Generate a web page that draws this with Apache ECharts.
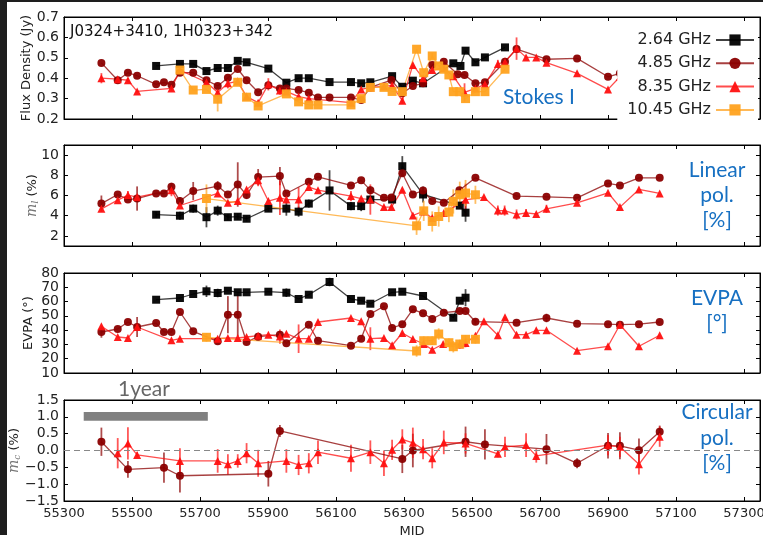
<!DOCTYPE html>
<html><head><meta charset="utf-8">
<script src="https://cdn.jsdelivr.net/npm/echarts@6/dist/echarts.min.js"></script>
<style>html,body{margin:0;padding:0;background:#fff}#c{width:763px;height:535px}</style>
</head><body><div id="c"></div>
<script>
const freqNames = ['2.64 GHz', '4.85 GHz', '8.35 GHz', '10.45 GHz'];

// Each point: [MJD, value, error]
const stokesI_264 = [[55571,0.46,0],[55641,0.47,0],[55680,0.47,0],[55719,0.435,0],[55752,0.45,0],[55782,0.45,0],[55811,0.485,0],[55837,0.478,0],[55901,0.447,0],[55954,0.378,0],[55990,0.40,0],[56020,0.40,0],[56081,0.381,0],[56144,0.381,0],[56174,0.375,0],[56201,0.38,0],[56265,0.41,0],[56295,0.358,0],[56326,0.388,0],[56356,0.375,0],[56445,0.473,0],[56466,0.46,0],[56481,0.535,0],[56510,0.478,0],[56538,0.502,0],[56597,0.551,0]];
const stokesI_485 = [[55410,0.475,0],[55458,0.39,0],[55488,0.427,0],[55515,0.412,0],[55571,0.37,0],[55594,0.38,0],[55616,0.368,0],[55641,0.427,0],[55680,0.427,0],[55719,0.39,0],[55752,0.362,0],[55782,0.402,0],[55811,0.445,0],[55837,0.39,0],[55871,0.331,0],[55901,0.365,0],[55935,0.35,0],[55954,0.35,0],[55990,0.342,0],[56020,0.329,0],[56047,0.306,0],[56081,0.306,0],[56144,0.306,0],[56174,0.293,0],[56201,0.355,0],[56263,0.391,0],[56295,0.326,0],[56326,0.362,0],[56356,0.375,0],[56383,0.465,0],[56417,0.481,0],[56458,0.419,0],[56478,0.416,0],[56510,0.375,0],[56538,0.38,0],[56597,0.481,0],[56631,0.543,0],[56719,0.493,0],[56809,0.497,0],[56900,0.407,0],[56935,0.424,0],[56991,0.40,0],[57052,0.44,0]];
const stokesI_835 = [[55410,0.40,0.025],[55458,0.395,0.01],[55488,0.39,0.01],[55515,0.335,0.005],[55616,0.35,0.01],[55641,0.44,0.01],[55719,0.38,0],[55752,0.33,0.01],[55782,0.375,0.025],[55811,0.385,0.01],[55837,0.31,0],[55871,0.28,0],[55901,0.37,0.03],[55935,0.34,0.02],[55954,0.335,0.015],[55990,0.31,0],[56020,0.30,0],[56144,0.28,0],[56174,0.345,0],[56201,0.355,0],[56241,0.36,0],[56265,0.365,0],[56295,0.29,0.015],[56326,0.465,0],[56356,0.40,0],[56383,0.44,0],[56417,0.45,0.01],[56445,0.41,0],[56478,0.33,0.045],[56510,0.35,0],[56538,0.37,0],[56576,0.47,0.02],[56597,0.48,0.02],[56631,0.545,0.055],[56659,0.502,0],[56689,0.502,0],[56719,0.476,0],[56809,0.424,0],[56900,0.345,0],[56935,0.407,0],[56991,0.36,0],[57052,0.42,0]];
const stokesI_1045 = [[55641,0.44,0],[55680,0.342,0],[55719,0.345,0],[55752,0.297,0.06],[55811,0.38,0],[55837,0.307,0],[55871,0.264,0],[55954,0.323,0],[55990,0.284,0],[56020,0.269,0],[56047,0.269,0],[56144,0.269,0],[56174,0.30,0],[56201,0.355,0],[56241,0.355,0],[56265,0.335,0],[56295,0.334,0],[56337,0.542,0],[56358,0.427,0],[56383,0.509,0.015],[56402,0.46,0],[56417,0.444,0],[56432,0.416,0],[56445,0.334,0],[56464,0.334,0],[56481,0.30,0],[56510,0.334,0],[56538,0.334,0],[56597,0.444,0]];

const linPol_264 = [[55571,4.1,0.3],[55641,4.0,0.4],[55680,4.7,0.4],[55719,3.85,1.0],[55752,4.5,0.5],[55782,3.85,0.3],[55811,3.9,0.3],[55837,3.7,0.3],[55901,4.7,0.3],[55954,4.7,0.7],[55990,4.4,0.5],[56020,5.2,0.4],[56081,6.5,2.0],[56144,4.95,0.4],[56174,4.95,0.5],[56201,5.6,0.3],[56265,5.6,0.3],[56295,8.9,1.0],[56356,6.1,0.8],[56464,5.0,0.3],[56481,4.3,0.9]];
const linPol_485 = [[55410,5.2,0.8],[55458,6.1,0],[55488,5.6,0],[55515,5.7,1.2],[55571,6.2,0],[55594,6.2,0],[55616,6.86,0.4],[55641,5.45,0.4],[55680,6.44,0.9],[55752,6.93,0.5],[55782,6.1,0],[55811,7.09,2.2],[55837,6.04,0.4],[55871,7.82,0.8],[55935,7.92,0.9],[55954,6.2,0],[56020,7.36,0.3],[56047,7.85,0],[56144,7.0,0],[56174,7.5,0],[56201,6.53,0.4],[56241,5.77,0],[56263,5.8,0],[56295,8.2,0],[56326,6.1,0],[56356,6.5,0],[56383,5.45,0],[56417,5.28,0],[56463,6.53,0],[56510,7.75,0],[56631,5.94,0],[56719,5.87,0],[56809,5.77,0],[56900,7.2,0],[56935,7.0,0],[56991,7.75,0],[57052,7.75,0]];
const linPol_835 = [[55410,4.68,0],[55458,5.54,0],[55488,6.04,0.4],[55515,5.85,0],[55616,6.53,0.6],[55641,5.01,0],[55752,6.2,0],[55782,5.28,0],[55811,5.45,0],[55837,6.6,0],[55871,7.52,0.6],[55901,5.45,0],[55935,5.77,1.7],[55954,5.6,0],[55990,5.6,1.2],[56020,6.83,0],[56047,6.53,0],[56144,5.94,0.5],[56174,5.7,0],[56201,5.6,1.5],[56241,4.85,0],[56263,4.85,0],[56295,6.56,0],[56326,4.02,0],[56356,4.42,0],[56383,3.76,0],[56417,4.26,0],[56481,5.57,1.6],[56535,5.84,0],[56576,4.51,0.5],[56596,4.51,0.5],[56631,4.12,0.5],[56659,4.27,0.4],[56689,4.17,0],[56719,4.68,0.4],[56809,5.28,0],[56900,6.27,0],[56935,4.85,0],[56991,6.6,0],[57052,6.2,0]];
const linPol_1045 = [[55719,5.7,1.4],[56337,3.0,0.9],[56358,4.48,1.0],[56383,3.43,1.0],[56402,3.92,1.0],[56432,4.36,1.0],[56445,5.41,1.2],[56464,6.07,1.3],[56481,6.24,1.3],[56510,6.07,0.9]];

const evpa_264 = [[55571,61.3,0],[55641,62.5,0],[55680,65.3,0],[55719,67.2,4],[55752,66,3],[55782,67.6,0],[55811,66.5,0],[55837,66.5,0],[55901,66.9,0],[55954,66.2,3],[55990,61.8,0],[56020,64.8,0],[56081,73.7,3],[56144,61.8,0],[56174,60.6,0],[56201,58.5,0],[56265,66.5,0],[56295,66.9,0],[56356,63.9,0],[56445,48.7,0],[56464,60.6,0],[56481,62.7,6]];
const evpa_485 = [[55410,38.7,4],[55458,40.8,0],[55488,45.7,0],[55515,42.2,7],[55571,45,0],[55594,38.7,0],[55616,38.7,0],[55641,52.7,0],[55680,39.2,0],[55752,32.2,0],[55782,50.8,13],[55811,50.8,15],[55837,31.7,0],[55871,35.4,0],[55935,36.8,0],[55954,30.8,0],[56020,43.8,0],[56047,32.6,0],[56144,29.1,0],[56174,34,0],[56201,51.3,0],[56241,56.7,0],[56265,41.5,0],[56295,44.1,0],[56326,54.6,0],[56356,51.8,0],[56383,47.8,0],[56417,52.2,0],[56464,53.4,0],[56481,53.4,0],[56510,45.9,2],[56631,45.2,0],[56719,48.5,3],[56809,44.5,0],[56900,44.2,0],[56935,43.8,0],[56991,44.2,0],[57052,45.7,0]];
const evpa_835 = [[55410,42.7,0],[55458,35.2,0],[55488,34.5,0],[55515,42.2,0],[55616,32.9,0],[55641,34,0],[55752,34,0],[55782,34.5,0],[55811,34.5,0],[55837,35.2,0],[55871,36.1,0],[55901,36.8,0],[55935,35.5,5],[55954,37.5,0],[55990,34,10],[56020,34,0],[56047,45.7,0],[56144,48.5,0],[56174,46.2,0],[56201,34,8],[56241,34.5,0],[56265,29.4,0],[56295,38,0],[56326,33.8,0],[56358,30.3,0],[56383,26.3,0],[56415,30.3,0],[56464,30,3],[56481,31,3],[56510,36,0],[56535,46.2,0],[56576,36.4,0],[56597,49,0],[56631,36.8,0],[56659,36.8,0],[56689,39.9,0],[56719,39.9,0],[56809,25.6,0],[56900,28.7,0],[56935,43.8,0],[56991,28.7,0],[57052,36.4,0]];
const evpa_1045 = [[55719,35,3],[56337,25.4,4],[56358,32.6,3],[56383,32.6,3],[56402,37.3,4],[56432,31.2,3],[56445,28.4,4],[56464,30.3,3],[56481,33.6,3],[56510,33.6,3]];

const circPol_485 = [[55410,0.26,0.42],[55488,-0.56,0.25],[55594,-0.51,0.45],[55641,-0.75,0.5],[55901,-0.69,0.38],[55935,0.58,0.18],[56295,-0.25,0.42],[56326,0.0,0.5],[56481,0.26,0.45],[56538,0.18,0.45],[56719,0.04,0.45],[56809,-0.38,0.15],[56900,0.14,0.38],[56935,0.14,0.4],[56991,0.01,0.35],[57052,0.56,0.18]];
const circPol_835 = [[55458,-0.08,0.45],[55488,0.21,0.48],[55515,-0.13,0.08],[55641,-0.31,0.38],[55752,-0.31,0.35],[55782,-0.41,0.3],[55811,-0.31,0.2],[55837,-0.08,0.3],[55871,-0.38,0.4],[55954,-0.31,0.35],[55990,-0.43,0.3],[56020,-0.38,0.3],[56047,-0.05,0.35],[56144,-0.23,0.4],[56201,-0.05,0.35],[56241,-0.38,0.38],[56265,0.02,0.3],[56295,0.33,0.3],[56326,0.23,0.45],[56356,0.04,0.3],[56383,-0.23,0.3],[56417,0.24,0.35],[56481,0.21,0.3],[56576,-0.1,0.1],[56597,0.11,0.3],[56659,0.16,0.35],[56689,-0.16,0.2],[56900,0.16,0.3],[56935,0.11,0.3],[56991,-0.41,0.3],[57052,0.41,0.3]];

const xTicks = [55300,55500,55700,55900,56100,56300,56500,56700,56900,57100,57300];
const yTicksI = [0.2,0.3,0.4,0.5,0.6,0.7];
const yTicksML = [2,4,6,8,10];
const yTicksEVPA = [10,20,30,40,50,60,70,80];
const yTicksMC = [-1.5,-1.0,-0.5,0.0,0.5,1.0,1.5];
const yearBarMJD = [55358, 55723];

const styles = {
  '2.64 GHz': {color:'#000000', symbol:'rect', size:8},
  '4.85 GHz': {color:'#8b0000', symbol:'circle', size:8},
  '8.35 GHz': {color:'#ff1010', symbol:'triangle', size:8},
  '10.45 GHz': {color:'#ffa21f', symbol:'rect', size:9}
};

const gridTops = [17, 145, 273, 400];
const gridHeights = [102, 101, 100, 101];
const grids = gridTops.map((t,i)=>({left:64, width:696, top:t, height:gridHeights[i], show:true, borderColor:'#000', borderWidth:1, containLabel:false, outerBoundsMode:'none'}));

const FONT = 'DejaVu Sans';
const fmt1 = v => (v < 0 ? '\u2212' : '') + Math.abs(v).toFixed(1);
const fmt0 = v => String(Math.round(v));

const xAxes = [];
for (let g=0; g<4; g++) {
  for (const bottom of [true,false]) {
    const lab = bottom && g===3;
    xAxes.push({
      type:'value', gridIndex:g, position: bottom?'bottom':'top',
      min:55300, max:57347,
      axisLine:{show:true, onZero:false, lineStyle:{color:'#000', width:1}},
      axisTick:{show:true, inside:true, length:4, lineStyle:{color:'#000'}, customValues:xTicks},
      axisLabel:{show:lab, customValues:xTicks, formatter:fmt0, fontSize:13, color:'#222', margin:6, fontFamily:FONT, showMaxLabel:true, showMinLabel:true},
      splitLine:{show:false},
      name: lab ? 'MJD' : '', nameLocation:'middle', nameGap:24,
      nameTextStyle:{fontSize:13, color:'#222', fontFamily:FONT}
    });
  }
}

const yDefs = [
  {min:0.2, max:0.7, ticks:yTicksI, fmt:fmt1, name:'Flux Density (Jy)', gap:31},
  {min:1, max:11, ticks:yTicksML, fmt:fmt0, name:'{m|m}{s|l}{n| (%)}', gap:24},
  {min:10, max:80, ticks:yTicksEVPA, fmt:fmt0, name:'EVPA (°)', gap:29},
  {min:-1.5, max:1.5, ticks:yTicksMC, fmt:fmt1, name:'{m|m}{s|c}{n| (%)}', gap:42}
];
const rich = {
  m:{fontFamily:'DejaVu Serif', fontStyle:'italic', fontSize:14, color:'#777'},
  s:{fontFamily:'DejaVu Serif', fontStyle:'italic', fontSize:9, color:'#777', padding:[6,0,0,0]},
  n:{fontFamily:FONT, fontSize:13, color:'#222'}
};
const yAxes = [];
yDefs.forEach((d,g)=>{
  for (const left of [true,false]) {
    yAxes.push({
      type:'value', gridIndex:g, position:left?'left':'right',
      min:d.min, max:d.max,
      axisLine:{show:true, onZero:false, lineStyle:{color:'#000', width:1}},
      axisTick:{show:true, inside:true, length:4, lineStyle:{color:'#000'}, customValues:d.ticks},
      axisLabel:{show:left, customValues:d.ticks, formatter:d.fmt, fontSize:14, color:'#222', margin:5, fontFamily:FONT},
      splitLine:{show:false},
      name: left ? d.name : '', nameLocation:'middle', nameRotate:90, nameGap:d.gap, nameMoveOverlap:false,
      nameTextStyle:{fontSize:13, color:'#222', fontFamily:FONT, rich:rich}
    });
  }
});

function lineSeries(name, data, g, extra) {
  const s = styles[name];
  return Object.assign({
    name, type:'line', xAxisIndex:2*g, yAxisIndex:2*g,
    data: data.map(d=>[d[0], d[1]]),
    symbol:s.symbol, symbolSize:s.size, showSymbol:true,
    lineStyle:{color:s.color, width:1.3, opacity:0.75},
    itemStyle:{color:s.color, opacity:0.95},
    emphasis:{disabled:true}, animation:false, z:3
  }, extra || {});
}
function errSeries(name, data, g) {
  const s = styles[name];
  return {
    name, type:'custom', xAxisIndex:2*g, yAxisIndex:2*g,
    data: data.filter(d=>d[2]>0),
    encode:{x:0, y:1},
    renderItem:(params, api)=>{
      const x = api.value(0), y = api.value(1), e = api.value(2);
      const p1 = api.coord([x, y-e]), p2 = api.coord([x, y+e]);
      return {type:'line', shape:{x1:p1[0], y1:p1[1], x2:p2[0], y2:p2[1]}, style:{stroke:s.color, lineWidth:1.8, opacity:0.7}};
    },
    silent:true, animation:false, z:2
  };
}

const panels = [
  [['2.64 GHz', stokesI_264], ['4.85 GHz', stokesI_485], ['8.35 GHz', stokesI_835], ['10.45 GHz', stokesI_1045]],
  [['2.64 GHz', linPol_264], ['4.85 GHz', linPol_485], ['8.35 GHz', linPol_835], ['10.45 GHz', linPol_1045]],
  [['2.64 GHz', evpa_264], ['4.85 GHz', evpa_485], ['8.35 GHz', evpa_835], ['10.45 GHz', evpa_1045]],
  [['4.85 GHz', circPol_485], ['8.35 GHz', circPol_835]]
];

const series = [];
panels.forEach((p,g)=>p.forEach(([name,data])=>{
  let extra = null;
  if (g===3 && name==='4.85 GHz') {
    extra = {
      markLine:{silent:true, symbol:'none', label:{show:false}, lineStyle:{type:[6,4], color:'#888', width:1.2}, data:[{yAxis:0}], animation:false},
      markArea:{silent:true, itemStyle:{color:'#808080', opacity:1}, data:[[{xAxis:yearBarMJD[0], yAxis:0.88},{xAxis:yearBarMJD[1], yAxis:1.14}]], animation:false}
    };
  }
  series.push(lineSeries(name, data, g, extra));
}));
panels.forEach((p,g)=>p.forEach(([name,data])=>series.push(errSeries(name, data, g))));

const BLUE = '#1770c2';
const LBL = '21px Lato';
const txt = (text, x, y, font, fill, align) => ({type:'text', x, y, z:20, style:{text, font, fill, textAlign:align||'center', textVerticalAlign:'middle'}});

const option = {
  backgroundColor:'#fff',
  animation:false,
  grid:grids, xAxis:xAxes, yAxis:yAxes, series,
  legend:{
    data:freqNames, orient:'vertical', right:5, top:28, align:'right',
    itemWidth:38, itemHeight:14, itemGap:7.3, selectedMode:false,
    backgroundColor:'#fff', padding:[4,3,4,10], z:10,
    textStyle:{fontSize:16, lineHeight:16, color:'#222', fontFamily:FONT}
  },
  graphic:[
    {type:'rect', shape:{x:0,y:0,width:7,height:535}, style:{fill:'#1e1e1e'}, z:30},
    {type:'rect', shape:{x:0,y:0,width:763,height:2}, style:{fill:'#1e1e1e'}, z:30},
    txt('J0324+3410, 1H0323+342', 70, 32, '15px "DejaVu Sans"', '#111', 'left'),
    txt('Stokes I', 539, 97, LBL, BLUE),
    txt('Linear', 717, 170, LBL, BLUE),
    txt('pol.', 717, 195, LBL, BLUE),
    txt('[%]', 717, 220, LBL, BLUE),
    txt('EVPA', 717, 298, LBL, BLUE),
    txt('[°]', 717, 323, LBL, BLUE),
    txt('Circular', 717, 412, LBL, BLUE),
    txt('pol.', 717, 438, LBL, BLUE),
    txt('[%]', 717, 463, LBL, BLUE),
    txt('1year', 144, 389, '21px Lato', '#666')
  ]
};
echarts.init(document.getElementById('c')).setOption(option);
</script></body></html>
